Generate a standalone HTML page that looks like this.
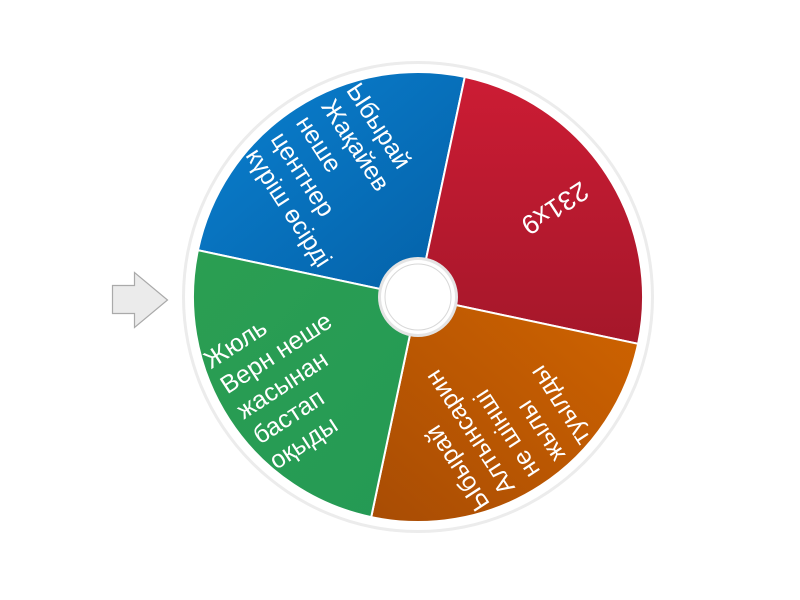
<!DOCTYPE html>
<html><head><meta charset="utf-8"><style>html,body{margin:0;padding:0;background:#fff;}svg{display:block}</style></head>
<body>
<svg width="800" height="600" viewBox="0 0 800 600" xmlns="http://www.w3.org/2000/svg">
<defs>
<linearGradient id="gb" x1="0" y1="0" x2="1" y2="1"><stop offset="0" stop-color="#0a80d0"/><stop offset="1" stop-color="#0460a6"/></linearGradient>
<linearGradient id="gr" x1="0" y1="0" x2="0" y2="1"><stop offset="0" stop-color="#cc1c34"/><stop offset="1" stop-color="#a5172a"/></linearGradient>
<linearGradient id="go" x1="1" y1="0" x2="0" y2="1"><stop offset="0" stop-color="#d06400"/><stop offset="1" stop-color="#a84c04"/></linearGradient>
<linearGradient id="gg" x1="0" y1="0" x2="1" y2="1"><stop offset="0" stop-color="#2b9e52"/><stop offset="1" stop-color="#249a55"/></linearGradient>
</defs>
<circle cx="418" cy="297" r="236" fill="#ececec"/>
<circle cx="418" cy="297" r="233" fill="#fff"/>
<path d="M418,297 L197.9,250.2 A225,225 0 0 1 464.8,76.9 Z" fill="url(#gb)" stroke="#fff" stroke-width="2"/>
<path d="M418,297 L464.8,76.9 A225,225 0 0 1 638.1,343.8 Z" fill="url(#gr)" stroke="#fff" stroke-width="2"/>
<path d="M418,297 L638.1,343.8 A225,225 0 0 1 371.2,517.1 Z" fill="url(#go)" stroke="#fff" stroke-width="2"/>
<path d="M418,297 L371.2,517.1 A225,225 0 0 1 197.9,250.2 Z" fill="url(#gg)" stroke="#fff" stroke-width="2"/>
<g font-family="Liberation Sans, DejaVu Sans, sans-serif" font-size="25" fill="#fff">
<g transform="translate(418,297) rotate(57)">
<text x="-213" y="-52">Ыбырай</text>
<text x="-213" y="-22">Жақайев</text>
<text x="-213" y="8">неше</text>
<text x="-213" y="38">центнер</text>
<text x="-213" y="68">күріш өсірді</text>
</g>
<g transform="translate(418,297) rotate(147)">
<text x="-200" y="9" font-size="27">231x9</text>
</g>
<g transform="translate(418,297) rotate(237)">
<text x="-213" y="-52">Ыбырай</text>
<text x="-213" y="-22">Алтынсарин</text>
<text x="-213" y="8">не шінші</text>
<text x="-213" y="38">жылы</text>
<text x="-213" y="68">туылды</text>
</g>
<g transform="translate(418,297) rotate(-33)">
<text x="-213" y="-52">Жюль</text>
<text x="-213" y="-22">Верн неше</text>
<text x="-213" y="8">жасынан</text>
<text x="-213" y="38">бастап</text>
<text x="-213" y="68">оқыды</text>
</g>
</g>
<circle cx="418" cy="297" r="40" fill="#e4e4e4"/>
<circle cx="418" cy="297" r="37" fill="#fff"/>
<circle cx="418" cy="297" r="33" fill="#fff" stroke="#d8d8d8" stroke-width="1"/>
<path d="M112.5,285.5 L134.5,285.5 L134.5,272.5 L167.5,300 L134.5,327.5 L134.5,313.5 L112.5,313.5 Z" fill="#ebebeb" stroke="#aaa" stroke-width="1.2"/>
</svg>
</body></html>
